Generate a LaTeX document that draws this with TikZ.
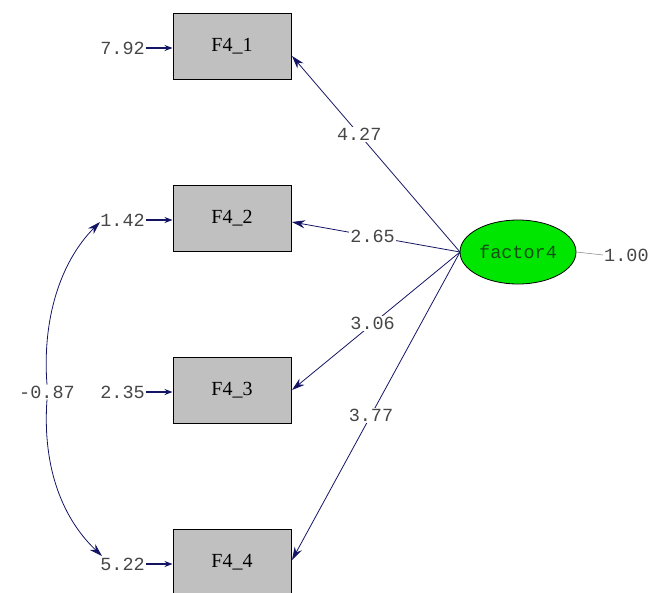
\documentclass[tikz,border=0pt]{standalone}
\usepackage{fontspec}
\setmainfont{Liberation Serif}
\newfontfamily\monof{Liberation Mono}
\usetikzlibrary{arrows.meta,shapes.geometric}
\definecolor{navy}{RGB}{20,20,100}
\definecolor{lblgray}{RGB}{70,70,70}
\tikzset{
  obs/.style={draw=black,line width=1pt,fill={rgb,255:red,192;green,192;blue,192},minimum width=118pt,minimum height=66pt,inner sep=0pt,font=\fontsize{20}{20}\selectfont},
  lat/.style={ellipse,draw=black,line width=0.8pt,fill={rgb,255:red,0;green,230;blue,0},minimum width=116pt,minimum height=64pt,inner sep=0pt,font=\monof\fontsize{18.5}{18.5}\selectfont,text={rgb,255:red,20;green,80;blue,20}},
  num/.style={font=\monof\fontsize{18.5}{18.5}\selectfont,text=lblgray,inner sep=1pt},
  path/.style={draw=navy,line width=0.8pt,-{Stealth[length=13pt,width=8pt]}},
  err/.style={draw=navy,line width=1.3pt,-{Stealth[length=8pt,width=6pt]}},
  onlab/.style={num,fill=white,inner sep=1pt},
  covtip/.style={draw=navy,line width=0.8pt,-{Stealth[length=13pt,width=8pt]}}
}
\begin{document}
\begin{tikzpicture}[x=1pt,y=-1pt]
\useasboundingbox (0,0) rectangle (653,592);
\node[obs] (b1) at (232,46) {F4\_1};
\node[obs] (b2) at (232,218) {F4\_2};
\node[obs] (b3) at (232,390) {F4\_3};
\node[obs] (b4) at (232,562) {F4\_4};
\node[lat] (f) at (518,252) {factor4};
\node[num,anchor=west] (v) at (603,255) {1.00};
\draw[draw=gray,line width=0.5pt] (f.east) -- (v.west);
% error terms
\node[num,anchor=east] (e1) at (146,48) {7.92};
\node[num,anchor=east] (e2) at (146,220) {1.42};
\node[num,anchor=east] (e3) at (146,392) {2.35};
\node[num,anchor=east] (e4) at (146,564) {5.22};
\draw[err] (e1.east) -- (b1.west |- e1.east);
\draw[err] (e2.east) -- (b2.west |- e2.east);
\draw[err] (e3.east) -- (b3.west |- e3.east);
\draw[err] (e4.east) -- (b4.west |- e4.east);
% loadings
\coordinate (o) at (460,252);
\coordinate (t1) at (292,56);
\coordinate (t2) at (292,222);
\coordinate (t3) at (292,390);
\coordinate (t4) at (292,560);
\draw[path] (o) -- node[onlab,pos=0.6] {4.27} (t1);
\draw[path] (o) -- node[onlab,pos=0.52] {2.65} (t2);
\draw[path] (o) -- node[onlab,pos=0.52] {3.06} (t3);
\draw[path] (o) -- node[onlab,pos=0.53] {3.77} (t4);
% covariance
\node[num] (c) at (47,392) {-0.87};
\coordinate (ca) at (100,222);
\coordinate (cb) at (102,556);
\draw[covtip] (c.north) .. controls (42,320) and (60,262) .. (ca);
\draw[covtip] (c.south) .. controls (42,470) and (64,520) .. (cb);
\end{tikzpicture}
\end{document}
